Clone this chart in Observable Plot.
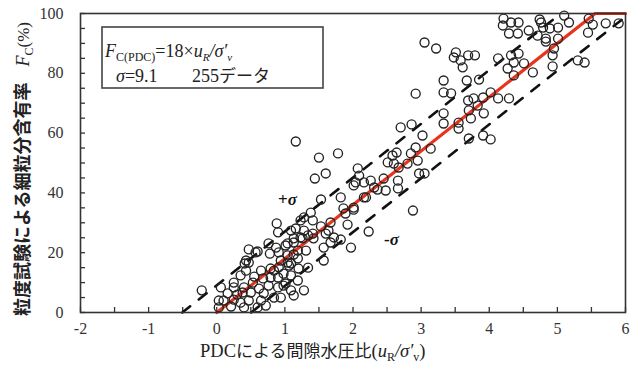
<!DOCTYPE html>
<html><head><meta charset="utf-8">
<script src="https://cdn.jsdelivr.net/npm/d3@7"></script>
<script src="https://cdn.jsdelivr.net/npm/@observablehq/plot@0.6"></script>
<style>body{margin:0;background:#fff}</style>
</head><body><div id="chart"></div>
<script>
// Pore water pressure ratio u_R/σ'_v (PDC) and fines content Fc (%) from grain-size tests
const ratio = [
 4.21,4.20,4.32,4.43,4.29,4.42,4.58,4.71,4.76,4.79,4.83,4.89,5.01,5.10,5.17,4.74,5.01,4.83,4.95,4.93,4.93,5.46,5.52,5.45,5.71,5.90,5.30,5.40,4.13,4.32,4.43,4.36,4.51,4.27,4.36,4.64,
 3.51,3.48,3.58,3.69,3.79,3.61,3.33,3.67,3.85,3.33,3.44,3.69,3.77,3.91,4.02,4.13,4.29,3.83,3.70,3.73,3.92,3.33,3.33,3.55,3.55,3.70,3.91,4.02,3.05,3.22,2.92,
 2.70,2.86,3.02,2.92,2.85,3.14,2.64,2.51,2.60,2.67,2.80,2.95,2.97,3.05,2.58,2.07,2.09,2.04,2.16,2.26,2.36,2.48,2.66,2.66,2.45,2.31,2.19,2.01,2.88,
 1.78,1.60,1.50,1.44,1.53,1.82,1.86,2.01,1.89,1.92,2.16,2.01,2.23,1.67,1.64,1.60,1.72,1.82,1.97,1.57,1.57,1.38,1.41,1.23,1.67,1.41,1.28,1.26,1.42,1.16,1.13,1.01,0.90,0.87,1.04,1.19,1.31,1.19,1.06,0.94,0.84,0.90,1.09,1.20,1.19,0.98,1.09,1.28,1.13,1.28,1.34,1.16,1.09,0.88,0.76,0.60,0.47,0.41,0.35,0.25,0.06,-0.22,1.53,
 0.78,0.91,0.57,0.47,0.43,0.65,0.79,0.91,1.04,0.68,0.79,0.53,0.62,0.76,0.90,1.01,0.40,0.25,0.16,0.38,0.50,0.10,0.25,0.35,0.47,0.65,0.03,0.21,0.40,0.60,0.72,0.94,0.84,0.03,
 0.43,1.04,1.13,1.23,1.34,1.09,0.98,0.69,1.13,0.55,0.30
];
const fines = [
 98.3,96.0,97.0,97.0,93.3,93.3,94.3,92.6,97.0,95.3,91.6,95.0,95.3,99.3,97.0,98.0,91.6,90.6,88.3,86.0,82.3,98.3,96.3,93.6,96.7,96.7,84.3,83.6,85.0,86.0,86.6,83.6,83.3,81.6,79.3,80.3,
 87.0,85.3,84.3,86.0,86.0,82.0,77.6,77.6,77.9,73.6,73.3,70.9,71.6,71.9,73.6,71.6,71.6,69.2,67.6,64.9,66.6,66.6,63.2,63.5,61.5,58.2,59.2,57.9,90.3,88.3,73.2,
 61.9,62.9,59.2,55.2,53.2,54.8,53.5,50.2,49.8,48.5,49.8,50.8,46.5,46.5,52.5,48.2,45.8,43.5,43.5,44.1,41.1,40.8,41.5,44.1,44.8,41.8,38.5,35.1,34.1,
 53.2,46.5,51.8,44.8,37.8,38.5,34.8,34.4,33.1,29.4,38.5,42.5,27.1,30.1,27.4,26.4,25.1,24.4,21.7,21.7,17.4,33.4,30.8,30.8,23.4,26.4,27.4,24.8,24.8,28.1,24.8,22.4,26.8,21.7,19.1,20.7,20.7,18.1,15.7,17.4,14.0,11.7,12.4,14.7,10.7,9.0,7.4,7.4,5.7,31.8,15.0,57.2,27.4,29.8,23.1,20.4,21.1,16.4,12.4,10.0,8.4,7.4,28.8,
 19.7,20.1,20.1,16.7,14.0,14.0,14.7,15.1,16.7,11.4,11.7,10.0,8.0,9.0,8.4,9.7,8.4,8.4,6.4,6.7,6.7,4.0,4.3,3.3,4.0,4.0,1.7,2.0,1.7,1.7,2.3,5.0,5.0,4.0,
 17.4,23.1,23.4,25.1,25.8,16.4,13.0,6.4,19.4,12.0,6.0
];
const slope = 18;      // Fc(PDC) = 18 × uR/σ'v
const sigma = 9.1;
const nData = 255;
const xTickLabels = [-2,-1,0,1,2,3,4,5,6];
const yTickLabels = [0,20,40,60,80,100];

const pts = ratio.map((r,i)=>({r, f: fines[i]}));
const fitLine = [{r:0,f:0},{r:100/slope,f:100},{r:6,f:100}];
const upper = [{r:-sigma/slope,f:0},{r:(100-sigma)/slope,f:100}];
const lower = [{r:sigma/slope,f:0},{r:6,f:slope*6-sigma}];

const W=643,H=369,mL=80,mR=18,mT=13,mB=57;
const fw=W-mL-mR, fh=H-mT-mB;
const xMinor = d3.range(-2,6.001,0.5);
const yMinor = d3.range(0,100.001,5);
const SERIF = "'Liberation Serif', 'Times New Roman', serif";
const JP = "'Noto Sans CJK JP', sans-serif";

const svg = Plot.plot({
  width:W,height:H,marginLeft:mL,marginRight:mR,marginTop:mT,marginBottom:mB,
  style:{fontFamily:SERIF,fontSize:"16px",color:"#333",background:"#fff"},
  x:{domain:[-2,6]},
  y:{domain:[0,100]},
  marks:[
    Plot.tickX(xMinor,{x:d=>d,insetTop:fh-5,stroke:"#333",strokeWidth:1.3}),
    Plot.tickY(yMinor,{y:d=>d,insetRight:fw-5,stroke:"#333",strokeWidth:1.3}),
    Plot.axisX({ticks:xTickLabels,tickFormat:d=>String(d),tickSize:0,tickPadding:10,label:null,fontSize:16,fontFamily:SERIF}),
    Plot.axisY({ticks:yTickLabels,tickFormat:d=>String(d),tickSize:0,tickPadding:17,label:null,fontSize:16,fontFamily:SERIF}),
    Plot.line(fitLine,{x:"r",y:"f",stroke:"#e8341f",strokeWidth:3.2}),
    Plot.line(upper,{x:"r",y:"f",stroke:"#111",strokeWidth:2.6,strokeDasharray:"10,11"}),
    Plot.line(lower,{x:"r",y:"f",stroke:"#111",strokeWidth:2.6,strokeDasharray:"10,11"}),
    Plot.dot(pts,{x:"r",y:"f",r:4.5,stroke:"#222",strokeWidth:1.35,fill:"none"}),
    Plot.frame({stroke:"#333",strokeWidth:1.6})
  ]
});
document.getElementById("chart").appendChild(svg);

const s = d3.select(svg);
s.selectAll("g[aria-label$='tick label'], g[aria-label$='tick label'] text")
  .attr("font-family",SERIF).style("font-family",SERIF).attr("fill","#333");

function T(x,y,opts={}){
  const t = s.append("text").attr("text-anchor","start")
    .attr("font-family",opts.family||SERIF).attr("font-size",opts.size||18).attr("fill",opts.fill||"#222");
  if (opts.weight) t.attr("font-weight",opts.weight);
  if (opts.transform) t.attr("transform",opts.transform); else t.attr("x",x).attr("y",y);
  return t;
}
// legend box
s.append("rect").attr("x",102).attr("y",27).attr("width",221).attr("height",61)
 .attr("fill","#fff").attr("stroke","#444").attr("stroke-width",1.6);
const t1 = T(105,57,{size:18});
t1.append("tspan").attr("font-style","italic").text("F");
t1.append("tspan").attr("font-size",12).attr("dy",4).text("C(PDC)");
t1.append("tspan").attr("dy",-4).text("=" + slope + "×");
t1.append("tspan").attr("font-style","italic").text("u");
t1.append("tspan").attr("font-style","italic").attr("font-size",11).attr("dy",4).text("R");
t1.append("tspan").attr("dy",-4).attr("font-style","italic").text("/σ′");
t1.append("tspan").attr("font-style","italic").attr("font-size",11).attr("dy",4).text("v");
const t2 = T(116,82,{size:18});
t2.append("tspan").attr("font-style","italic").text("σ");
t2.append("tspan").text("=" + sigma);
const t3 = T(192,82,{size:18});
t3.append("tspan").text(nData);
t3.append("tspan").attr("font-family",JP).attr("font-size",17).text("データ");

// ±σ labels
const sp = T(278,205,{size:17,weight:"bold",fill:"#111"});
sp.append("tspan").text("+"); sp.append("tspan").attr("font-style","italic").text("σ");
const sm = T(384,245,{size:17,weight:"bold",fill:"#111"});
sm.append("tspan").text("-"); sm.append("tspan").attr("font-style","italic").text("σ");

// x axis title
const xl = T(200,357,{family:JP,size:17});
xl.append("tspan").attr("font-family",SERIF).attr("font-size",18.5).text("PDC");
xl.append("tspan").text("による間隙水圧比");
xl.append("tspan").attr("font-family",SERIF).attr("font-size",18.5).text("(");
xl.append("tspan").attr("font-family",SERIF).attr("font-size",18.5).attr("font-style","italic").text("u");
xl.append("tspan").attr("font-family",SERIF).attr("font-size",12).attr("dy",4).text("R");
xl.append("tspan").attr("font-family",SERIF).attr("font-size",18.5).attr("font-style","italic").attr("dy",-4).text("/σ′");
xl.append("tspan").attr("font-family",SERIF).attr("font-size",12).attr("dy",4).text("v");
xl.append("tspan").attr("font-family",SERIF).attr("font-size",18.5).attr("dy",-4).text(")");

// y axis title
const yl = T(0,0,{family:JP,size:18,weight:"bold",transform:"translate(29,316) rotate(-90)"});
yl.append("tspan").text("粒度試験による細粒分含有率");
yl.append("tspan").attr("dx",16).attr("font-family",SERIF).attr("font-weight","normal").attr("font-style","italic").attr("font-size",18).text("F");
yl.append("tspan").attr("font-family",SERIF).attr("font-weight","normal").attr("font-size",12).attr("dy",4).text("C");
yl.append("tspan").attr("font-family",SERIF).attr("font-weight","normal").attr("font-size",17).attr("dy",-4).text("(%)");
</script></body></html>
